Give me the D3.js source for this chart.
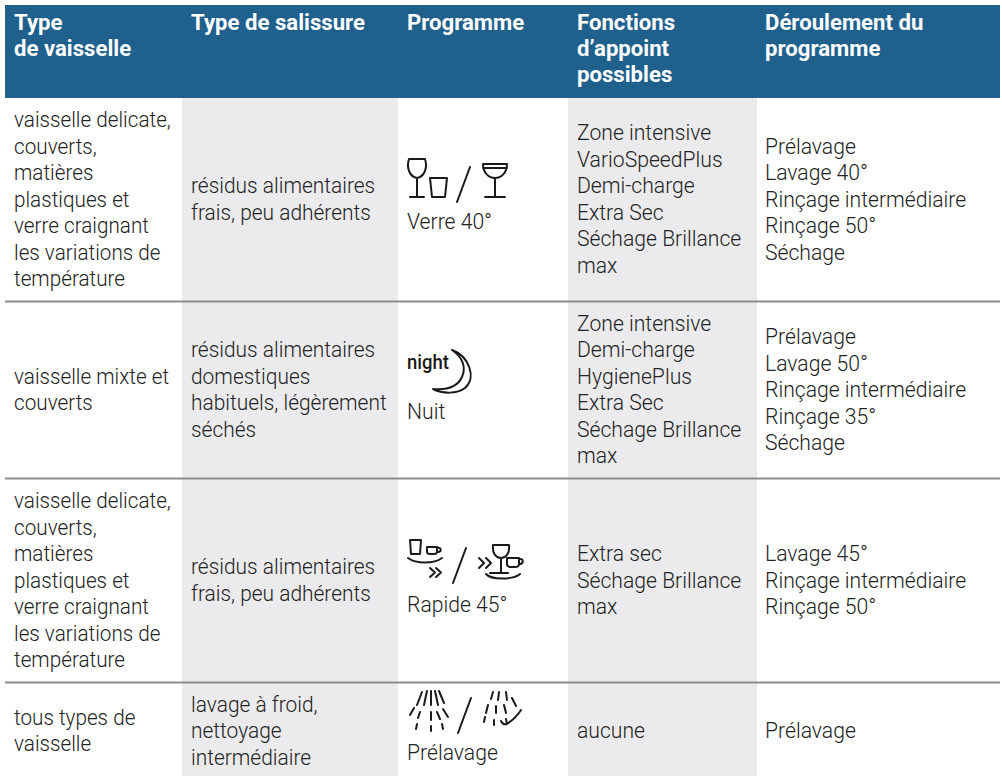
<!DOCTYPE html>
<html>
<head>
<meta charset="utf-8">
<script src="https://cdn.jsdelivr.net/npm/d3@7"></script>
<style>
  body { margin: 0; background: #fff; }
  svg { display: block; }
  text { font-family: Roboto, sans-serif; font-size: 22.5px; font-weight: 300; fill: #222; }
  .head text { font-weight: 700; fill: #fff; }
  .icon path { fill: none; stroke: #1a1a1a; stroke-width: 2; stroke-linecap: round; stroke-linejoin: round; }
</style>
</head>
<body>
<script>
// column + row names
const columns = ['type', 'salissure', 'programme', 'fonctions', 'deroulement']
const rows = ['head', 'verre', 'nuit', 'rapide', 'prelavage']

const headers = [
    ['Type', 'de vaisselle'],
    ['Type de salissure'],
    ['Programme'],
    ['Fonctions', 'd’appoint', 'possibles'],
    ['Déroulement du', 'programme']
]

const typeVaisselle = [
    ['vaisselle delicate,', 'couverts,', 'matières', 'plastiques et', 'verre craignant', 'les variations de', 'température'],
    ['vaisselle mixte et', 'couverts'],
    ['vaisselle delicate,', 'couverts,', 'matières', 'plastiques et', 'verre craignant', 'les variations de', 'température'],
    ['tous types de', 'vaisselle']
]
const typeSalissure = [
    ['résidus alimentaires', 'frais, peu adhérents'],
    ['résidus alimentaires', 'domestiques', 'habituels, légèrement', 'séchés'],
    ['résidus alimentaires', 'frais, peu adhérents'],
    ['lavage à froid,', 'nettoyage', 'intermédiaire']
]
const programmes = ['Verre 40°', 'Nuit', 'Rapide 45°', 'Prélavage']
const fonctions = [
    ['Zone intensive', 'VarioSpeedPlus', 'Demi-charge', 'Extra Sec', 'Séchage Brillance', 'max'],
    ['Zone intensive', 'Demi-charge', 'HygienePlus', 'Extra Sec', 'Séchage Brillance', 'max'],
    ['Extra sec', 'Séchage Brillance', 'max'],
    ['aucune']
]
const deroulement = [
    ['Prélavage', 'Lavage 40°', 'Rinçage intermédiaire', 'Rinçage 50°', 'Séchage'],
    ['Prélavage', 'Lavage 50°', 'Rinçage intermédiaire', 'Rinçage 35°', 'Séchage'],
    ['Lavage 45°', 'Rinçage intermédiaire', 'Rinçage 50°'],
    ['Prélavage']
]

const width = 1002
const height = 776
const lineH = 26.5
// the original type is narrower than Roboto
const squeeze = { type: 0.92, salissure: 0.93, programme: 0.94, fonctions: 0.94, deroulement: 0.94 }
const headSqueeze = 0.985

const xEdge = d3.scaleOrdinal().domain(columns).range([5, 182, 398, 568, 757])
const xEnd = d3.scaleOrdinal().domain(columns).range([182, 398, 568, 757, 1000])
const xText = d3.scaleOrdinal().domain(columns).range([14, 191, 407, 577, 765])
const yEdge = d3.scaleOrdinal().domain(rows).range([5, 98, 302, 479, 683])
const yEnd = d3.scaleOrdinal().domain(rows).range([98, 302, 479, 683, 776])

const svg = d3.select('body').append('svg')
    .attr('width', width)
    .attr('height', height)

const bodyRows = rows.slice(1)

// grey columns
const greyCols = ['salissure', 'fonctions']
greyCols.forEach(function(c) {
    svg.selectAll(null)
        .data(bodyRows)
        .enter().append('rect')
        .attr('x', xEdge(c))
        .attr('width', xEnd(c) - xEdge(c))
        .attr('y', r => yEdge(r))
        .attr('height', r => yEnd(r) - yEdge(r))
        .attr('fill', '#ebebed')
})

// header band
svg.append('rect')
    .attr('x', xEdge('type'))
    .attr('y', yEdge('head'))
    .attr('width', xEnd('deroulement') - xEdge('type'))
    .attr('height', yEnd('head') - yEdge('head'))
    .attr('fill', '#20608d')

// separators
svg.selectAll('.rule')
    .data(bodyRows.slice(0, -1))
    .enter().append('line')
    .attr('class', 'rule')
    .attr('x1', xEdge('type'))
    .attr('x2', xEnd('deroulement'))
    .attr('y1', r => yEnd(r) - 0.5)
    .attr('y2', r => yEnd(r) - 0.5)
    .attr('stroke', '#8c8c8c')
    .attr('stroke-width', 2)

function put(g, str, x, y, k) {
    return g.append('text')
        .attr('transform', `translate(${x},${y}) scale(${k},1)`)
        .text(str)
}

function block(g, lines, x, yCenter, k) {
    const top = yCenter - (lines.length - 1) * lineH / 2
    lines.forEach((d, i) => put(g, d, x, top + i * lineH + 7, k))
}

// header text
const head = svg.append('g').attr('class', 'head')
headers.forEach(function(lines, i) {
    lines.forEach((d, k) => put(head, d, xText(columns[i]), 30 + k * 26, headSqueeze))
})

const cells = svg.append('g')
const columnText = { type: typeVaisselle, salissure: typeSalissure, fonctions: fonctions, deroulement: deroulement }
const rowCenter = { verre: 199.5, nuit: 390, rapide: 580.5, prelavage: 731 }
Object.keys(columnText).forEach(function(c) {
    columnText[c].forEach(function(lines, i) {
        block(cells, lines, xText(c), rowCenter[bodyRows[i]], squeeze[c])
    })
})

// programme labels under the icons
const labelY = [229, 419, 612, 760]
programmes.forEach((d, i) => put(cells, d, xText('programme'), labelY[i], squeeze.programme))

// pictograms
const icons = svg.append('g').attr('class', 'icon')
function icon(x, y, d) {
    icons.append('path').attr('transform', `translate(${x},${y})`).attr('d', d)
}
const slash = 'M0 35L13 0'
const wine = 'M1 0H17C20 9 16 18 9 19C2 18 -2 9 1 0M9 19V38M2 38H16'
const tumbler = 'M0 0H17L15 19H2Z'
const coupe = 'M0 0H24C24 9 18 14 12 14C6 14 0 9 0 0M0 4H24M12 14V33M2 33H22'
icon(408, 159, wine)
icon(430, 178, tumbler)
icon(457, 167, slash)
icon(483, 164, coupe)

icon(433, 350, 'M19 0C36 6 44 28 32 38C24 44 10 44 0 39C12 40 24 38 29 27C34 16 28 6 19 0Z')
icons.append('text')
    .attr('x', 407).attr('y', 369)
    .attr('textLength', 42)
    .attr('lengthAdjust', 'spacingAndGlyphs')
    .style('font-size', '20px').style('font-weight', 500).style('fill', '#1a1a1a')
    .text('night')

const rapideA = 'M2 0H13L12 14H3ZM19 7H29V12C29 14 27 14 26 14H22C20 14 19 13 19 12ZM29 8C34 7 34 12 29 12M0 18C8 24 26 24 34 18M22 28L27 32.5L22 37M28 28L33 32.5L28 37'
const rapideB = 'M14 0H30C31 8 27 13 22 13C17 13 13 8 14 0M22 13V28M11 28H29M28 13H40V19C40 22 38 22 36 22H32C30 22 28 21 28 19ZM40 14C45 13 45 19 40 19M7 29C12 35 34 35 41 29M0 13L5 18L0 23M7 13L12 18L7 23'
icon(408, 540, rapideA)
icon(453, 548, slash)
icon(479, 545, rapideB)

const showerA = 'M12 1L7 14M17 0L14 14M21 0V14M25 0L28 14M29 0L34 12M4 17L0 24M10 21L8 27M21 21V29M27 21L30 28M33 18L38 26M7 33L6 38M21 35V40M32 33L33 38'
const showerB = 'M7 0L5 7M13 0L12 8M20 0L21 8M2 13L0 21M10 14V21M18 13L20 21M26 6L30 14M-1 25L-2 30M8 28V33M20 27L21 32M35 18C30 26 24 30 21 32C18 33 16 31 15 29'
icon(410, 691, showerA)
icon(458, 698, slash)
icon(486, 692, showerB)
</script>
</body>
</html>
